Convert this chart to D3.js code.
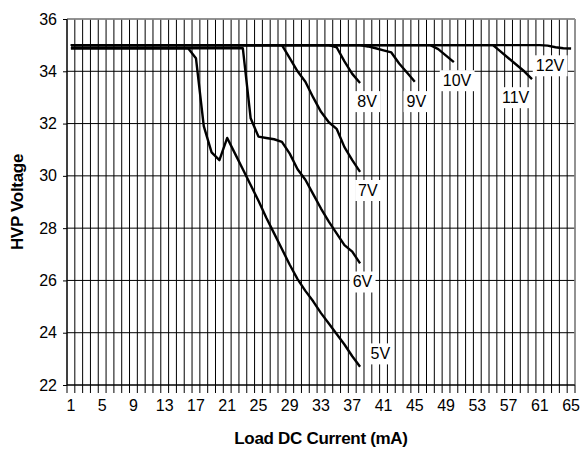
<!DOCTYPE html>
<html>
<head>
<meta charset="utf-8">
<script src="https://cdn.jsdelivr.net/npm/d3@7"></script>
<style>
  body { margin: 0; background: #fff; }
  text { font-family: "Liberation Sans", Arial, sans-serif; }
</style>
</head>
<body>
<div id="chart"></div>
<script>
// categories on the x axis (mA), one band per current step
let categories = d3.range(1, 66)
let xTickLabels = [1, 5, 9, 13, 17, 21, 25, 29, 33, 37, 41, 45, 49, 53, 57, 61, 65]
let yTickLabels = [22, 24, 26, 28, 30, 32, 34, 36]

// each series: current points and the voltage read at them
let seriesNames = ['5V', '6V', '7V', '8V', '9V', '10V', '11V', '12V']

let current5V = [1, 16, 17, 18, 19, 20, 21, 22, 23, 24, 25, 26, 27, 28, 29, 30, 31, 32, 33, 34, 35, 36, 37, 38]
let volts5V = [34.88, 34.88, 34.5, 31.9, 30.9, 30.6, 31.45, 30.85, 30.25, 29.65, 29.05, 28.4, 27.8, 27.2, 26.6, 26.05, 25.6, 25.2, 24.75, 24.35, 23.95, 23.55, 23.1, 22.7]

let current6V = [1, 23, 24, 25, 26, 27, 28, 29, 30, 31, 32, 33, 34, 35, 36, 37, 38]
let volts6V = [34.88, 34.88, 32.2, 31.5, 31.45, 31.4, 31.3, 30.85, 30.25, 29.85, 29.3, 28.75, 28.25, 27.8, 27.35, 27.1, 26.65]

let current7V = [1, 28, 29, 30, 31, 32, 33, 34, 35, 36, 37, 38]
let volts7V = [35, 35, 34.5, 34.0, 33.6, 33.0, 32.45, 32.05, 31.8, 31.1, 30.6, 30.15]

let current8V = [1, 34, 35, 36, 37, 38]
let volts8V = [35, 35, 34.92, 34.38, 33.9, 33.55]

let current9V = [1, 38, 39, 40, 41, 42, 43, 44, 45]
let volts9V = [35, 35, 34.95, 34.88, 34.8, 34.72, 34.3, 33.95, 33.6]

let current10V = [1, 47, 48, 49, 50]
let volts10V = [35, 35, 34.85, 34.6, 34.35]

let current11V = [1, 55, 56, 57, 58, 59, 60]
let volts11V = [35, 35, 34.75, 34.5, 34.25, 34.0, 33.7]

let current12V = [1, 61, 62, 63, 64, 65]
let volts12V = [35, 35, 34.98, 34.92, 34.88, 34.87]

// where each series label sits, in chart units (current, voltage)
let labelCurrent = [40.6, 38.3, 39.0, 38.9, 45.2, 50.4, 57.9, 62.3]
let labelVolts = [23.2, 25.95, 29.45, 32.85, 32.85, 33.65, 33.0, 34.22]

let seriesCurrent = [current5V, current6V, current7V, current8V, current9V, current10V, current11V, current12V]
let seriesVolts = [volts5V, volts6V, volts7V, volts8V, volts9V, volts10V, volts11V, volts12V]

let width = 583, height = 456
let margin = {top: 19, right: 8, bottom: 71, left: 67}
let plotW = width - margin.left - margin.right,
  plotH = height - margin.top - margin.bottom

let x = d3.scaleBand()
  .domain(categories)
  .range([0, plotW])
  .padding(0)

let y = d3.scaleLinear()
  .domain([22, 36])
  .range([plotH, 0])

let cx = (c) => x(c) + x.bandwidth() / 2

let svg = d3.select('#chart').append('svg')
  .attr('width', width)
  .attr('height', height)
  .append('g')
  .attr('transform', `translate(${margin.left},${margin.top})`)

// vertical grid at band edges, running past the bottom axis as ticks
let edges = categories.map((c) => x(c)).concat([plotW])
svg.append('g')
  .selectAll('line')
  .data(edges)
  .enter().append('line')
  .attr('x1', (d) => d).attr('x2', (d) => d)
  .attr('y1', 0).attr('y2', plotH + 8)
  .attr('stroke', '#000')
  .attr('stroke-width', 1)

// horizontal grid
svg.append('g')
  .selectAll('line')
  .data(yTickLabels)
  .enter().append('line')
  .attr('x1', 0).attr('x2', plotW)
  .attr('y1', (d) => y(d)).attr('y2', (d) => y(d))
  .attr('stroke', '#000')
  .attr('stroke-width', 1)

// frame: grey top/right, black axes
svg.append('line').attr('x1', 0).attr('x2', plotW).attr('y1', 0).attr('y2', 0)
  .attr('stroke', '#999').attr('stroke-width', 1.5)
svg.append('line').attr('x1', plotW).attr('x2', plotW).attr('y1', 0).attr('y2', plotH)
  .attr('stroke', '#999').attr('stroke-width', 1.5)
svg.append('line').attr('x1', 0).attr('x2', 0).attr('y1', 0).attr('y2', plotH)
  .attr('stroke', '#000').attr('stroke-width', 1)
svg.append('line').attr('x1', 0).attr('x2', plotW).attr('y1', plotH).attr('y2', plotH)
  .attr('stroke', '#000').attr('stroke-width', 1)

let yAxis = d3.axisLeft(y)
  .tickValues(yTickLabels)
  .tickSize(4)
  .tickPadding(6)

let yg = svg.append('g').call(yAxis)
yg.select('.domain').remove()
yg.selectAll('text').style('font-size', '16px').attr('fill', '#000')

let xAxis = d3.axisBottom(x)
  .tickValues(xTickLabels)
  .tickSize(0)
  .tickPadding(15)

let xg = svg.append('g')
  .attr('transform', `translate(0,${plotH})`)
  .call(xAxis)
xg.select('.domain').remove()
xg.selectAll('text').style('font-size', '16px').attr('fill', '#000')

// series lines
let line = d3.line()
  .x((d) => cx(d[0]))
  .y((d) => y(d[1]))

seriesNames.forEach((name, i) => {
  let pts = seriesCurrent[i].map((c, j) => [c, seriesVolts[i][j]])
  svg.append('path')
    .datum(pts)
    .attr('fill', 'none')
    .attr('stroke', '#000')
    .attr('stroke-width', 2.4)
    .attr('stroke-linejoin', 'round')
    .attr('d', line)
})

// labels with white boxes
seriesNames.forEach((name, i) => {
  let lx = cx(1) + (labelCurrent[i] - 1) * x.bandwidth()
  let ly = y(labelVolts[i])
  let g = svg.append('g')
  let t = g.append('text')
    .attr('x', lx).attr('y', ly)
    .attr('dy', '0.36em')
    .attr('text-anchor', 'middle')
    .style('font-size', '16px')
    .text(name)
  let bb = t.node().getBBox()
  g.insert('rect', 'text')
    .attr('x', bb.x - 3).attr('y', bb.y - 2)
    .attr('width', bb.width + 6).attr('height', bb.height + 4)
    .attr('fill', '#fff')
})

// axis titles
svg.append('text')
  .attr('x', plotW / 2).attr('y', plotH + 59)
  .attr('text-anchor', 'middle')
  .style('font-size', '17px').style('font-weight', 'bold')
  .style('letter-spacing', '-0.3px')
  .text('Load DC Current (mA)')

svg.append('text')
  .attr('transform', `translate(${-44},${plotH / 2}) rotate(-90)`)
  .attr('text-anchor', 'middle')
  .style('font-size', '17px').style('font-weight', 'bold')
  .style('letter-spacing', '-0.3px')
  .text('HVP Voltage')
</script>
</body>
</html>
